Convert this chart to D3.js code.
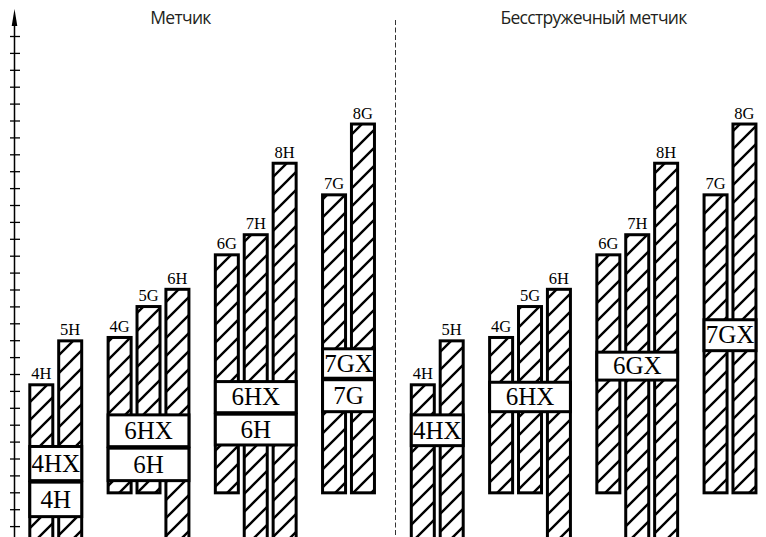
<!DOCTYPE html>
<html>
<head>
<meta charset="utf-8">
<script src="https://cdn.jsdelivr.net/npm/d3@7"></script>
<style>
  body { margin: 0; background: #fff; }
  svg { display: block; }
</style>
</head>
<body>
<svg id="container"></svg>
<script>
// panels (titles)
var panelTitles = ["Метчик", "Бесстружечный метчик"];

// bars: same set in both panels
var barLabels = ["4H", "5H", "4G", "5G", "6H", "6G", "7H", "8H", "7G", "8G"];
var barGroup  = [0, 0, 1, 1, 1, 2, 2, 2, 3, 3];
var barTop    = [9.45, 12.05, 12.25, 14.08, 15.1, 17.14, 18.33, 22.56, 20.69, 24.88];
var barBottom = [-1, -1, 2.88, 2.88, -1, 2.88, -1, -1, 2.88, 2.88];

// white boxes with thread class labels
var boxPanel  = [0, 0, 0, 0, 0, 0, 0, 0, 1, 1, 1, 1];
var boxGroup  = [0, 0, 1, 1, 2, 2, 3, 3, 0, 1, 2, 3];
var boxLabels = ["4HX", "4H", "6HX", "6H", "6HX", "6H", "7GX", "7G", "4HX", "6HX", "6GX", "7GX"];
var boxTop    = [5.8, 3.69, 7.67, 5.7, 9.64, 7.71, 11.58, 9.75, 7.67, 9.6, 11.38, 13.3];
var boxBottom = [3.69, 1.56, 5.7, 3.69, 7.71, 5.8, 9.75, 7.77, 5.76, 7.77, 9.64, 11.38];

// axis ticks
var tickValues = d3.range(1, 31);

var W = 766, H = 537;
var svg = d3.select("#container").attr("width", W).attr("height", H);

var y = d3.scaleLinear().domain([0, 30]).range([543, 36]);
var panelX = d3.scaleLinear().domain([0, 1]).range([28.3, 409.8]);
var slotX = d3.scaleLinear().domain([0, 1]).range([0, 28.9]);
var groupGap = 0.71; // in slots
var barW = 26, sw = 3;

function barLeft(p, i) {
  return panelX(p) + slotX(i + barGroup[i] * groupGap);
}

// hatch pattern
var defs = svg.append("defs");
defs.append("pattern")
    .attr("id", "hatch")
    .attr("patternUnits", "userSpaceOnUse")
    .attr("width", 18).attr("height", 18)
  .append("path")
    .attr("d", "M-3,3 L3,-3 M0,18 L18,0 M15,21 L21,15")
    .attr("stroke", "#000")
    .attr("stroke-width", 2.4);

// y axis with arrow
var gY = svg.append("g")
    .attr("class", "axis y-axis")
    .attr("transform", "translate(14.5,0)")
    .call(d3.axisLeft(y).tickValues(tickValues).tickFormat("").tickSizeOuter(0));
gY.select(".domain").remove();
gY.selectAll(".tick line").attr("x1", -4.5).attr("x2", 5.5).attr("stroke-width", 1.3);
gY.append("line")
    .attr("y1", 24).attr("y2", H)
    .attr("stroke", "#000").attr("stroke-width", 1.5);
gY.append("path")
    .attr("d", "M0,9 L-2.8,26 L2.8,26 Z")
    .attr("fill", "#000");

// divider
svg.append("line")
    .attr("x1", 395.5).attr("x2", 395.5)
    .attr("y1", 20).attr("y2", H)
    .attr("stroke", "#333").attr("stroke-width", 1)
    .attr("stroke-dasharray", "5,2.5");

// titles
svg.selectAll(".title")
  .data(panelTitles)
  .enter().append("text")
    .attr("class", "title")
    .attr("x", function(d, p) { return p === 0 ? 180.5 : 593.5; })
    .attr("y", 24)
    .attr("text-anchor", "middle")
    .style("font-family", "'Open Sans', sans-serif")
    .style("font-size", "17.5px")
    .style("letter-spacing", "-0.7px")
    .attr("fill", "#231f20")
    .text(function(d) { return d; });

// bars
var bars = [];
[0, 1].forEach(function(p) {
  barLabels.forEach(function(l, i) { bars.push({p: p, i: i}); });
});

var chartBody = svg.append("g").attr("class", "chartBody");

chartBody.selectAll("rect.bar")
  .data(bars)
  .enter().append("rect")
    .attr("class", "bar")
    .attr("x", function(d) { return barLeft(d.p, d.i) + sw / 2; })
    .attr("y", function(d) { return y(barTop[d.i]) + sw / 2; })
    .attr("width", barW - sw)
    .attr("height", function(d) { return y(barBottom[d.i]) - y(barTop[d.i]) - sw; })
    .attr("fill", "url(#hatch)")
    .attr("stroke", "#000")
    .attr("stroke-width", sw);

chartBody.selectAll("text.barlabel")
  .data(bars)
  .enter().append("text")
    .attr("class", "barlabel")
    .attr("x", function(d) { return barLeft(d.p, d.i) + barW / 2; })
    .attr("y", function(d) { return y(barTop[d.i]) - 4; })
    .attr("text-anchor", "middle")
    .style("font-family", "'Liberation Serif', serif")
    .style("font-size", "16.5px")
    .text(function(d) { return barLabels[d.i]; });

// boxes
function groupSpan(p, g) {
  var idx = [];
  barGroup.forEach(function(gg, i) { if (gg === g) idx.push(i); });
  var x0 = barLeft(p, idx[0]);
  var x1 = barLeft(p, idx[idx.length - 1]) + barW;
  return [x0, x1];
}

var boxes = boxLabels.map(function(l, k) { return k; });

chartBody.selectAll("rect.box")
  .data(boxes)
  .enter().append("rect")
    .attr("class", "box")
    .attr("x", function(k) { return groupSpan(boxPanel[k], boxGroup[k])[0] + sw / 2; })
    .attr("y", function(k) { return y(boxTop[k]) + sw / 2; })
    .attr("width", function(k) { var s = groupSpan(boxPanel[k], boxGroup[k]); return s[1] - s[0] - sw; })
    .attr("height", function(k) { return y(boxBottom[k]) - y(boxTop[k]) - sw / 2; })
    .attr("fill", "#fff")
    .attr("stroke", "#000")
    .attr("stroke-width", sw);

chartBody.selectAll("text.boxlabel")
  .data(boxes)
  .enter().append("text")
    .attr("class", "boxlabel")
    .attr("x", function(k) { var s = groupSpan(boxPanel[k], boxGroup[k]); return (s[0] + s[1]) / 2; })
    .attr("y", function(k) { return (y(boxTop[k]) + y(boxBottom[k])) / 2 + 9; })
    .attr("text-anchor", "middle")
    .style("font-family", "'Liberation Serif', serif")
    .style("font-size", "25px")
    .text(function(k) { return boxLabels[k]; });
</script>
</body>
</html>
